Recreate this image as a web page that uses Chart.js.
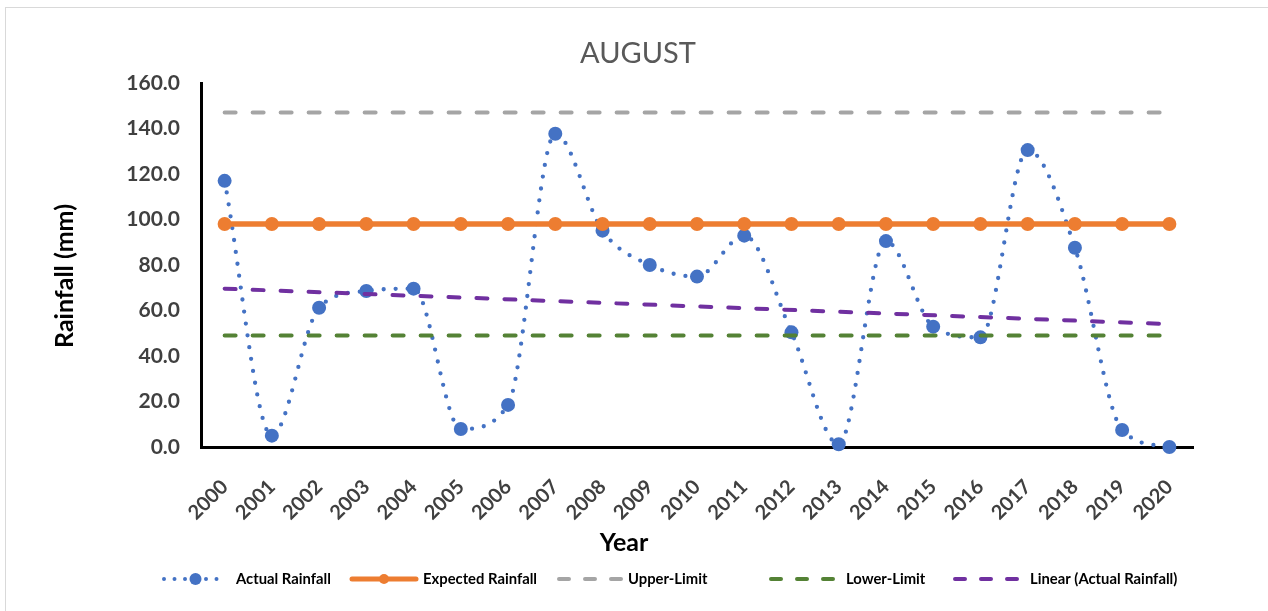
<!DOCTYPE html>
<html>
<head>
<meta charset="utf-8">
<title>AUGUST rainfall</title>
<script src="https://cdn.jsdelivr.net/npm/chart.js@4.4.1/dist/chart.umd.min.js"></script>
<style>
  html, body { margin: 0; padding: 0; background: #ffffff; }
  #wrap { position: relative; width: 1268px; height: 611px; overflow: hidden; }
  #frame { position: absolute; left: 5px; top: 7px; width: 1400px; height: 800px;
           border: 1.5px solid #d9d9d9; box-sizing: border-box; }
  #c { position: absolute; left: 0; top: 0; }
</style>
</head>
<body>
<div id="wrap">
  <div id="frame"></div>
  <canvas id="c" width="1268" height="611"></canvas>
</div>
<script>
// ---- data ----
const years = ['2000','2001','2002','2003','2004','2005','2006','2007','2008','2009','2010',
               '2011','2012','2013','2014','2015','2016','2017','2018','2019','2020'];

const actualRainfall = [117.0, 5.0, 61.2, 68.6, 69.6, 7.9, 18.5, 137.7, 95.1, 80.0, 74.9,
                        92.9, 50.4, 1.2, 90.5, 52.9, 48.2, 130.5, 87.6, 7.5, 0.0];

const expectedRainfall = [98.0, 98.0, 98.0, 98.0, 98.0, 98.0, 98.0, 98.0, 98.0, 98.0, 98.0,
                          98.0, 98.0, 98.0, 98.0, 98.0, 98.0, 98.0, 98.0, 98.0, 98.0];

const upperLimit = [147.0, 147.0, 147.0, 147.0, 147.0, 147.0, 147.0, 147.0, 147.0, 147.0, 147.0,
                    147.0, 147.0, 147.0, 147.0, 147.0, 147.0, 147.0, 147.0, 147.0, 147.0];

const lowerLimit = [49.0, 49.0, 49.0, 49.0, 49.0, 49.0, 49.0, 49.0, 49.0, 49.0, 49.0,
                    49.0, 49.0, 49.0, 49.0, 49.0, 49.0, 49.0, 49.0, 49.0, 49.0];

// linear trend of the actual series: value at first and last year
const trendYears = ['2000', '2020'];
const trendValues = [69.6, 54.0];

const yTickMin = 0, yTickMax = 160, yTickStep = 20;

// ---- styling ----
const FONT = 'Lato, "Open Sans", sans-serif';
const C_BLUE = '#4472C4', C_ORANGE = '#ED7D31', C_GRAY = '#A5A5A5',
      C_GREEN = '#548235', C_PURPLE = '#7030A0';

const legendItems = [
  { text: 'Actual Rainfall',         kind: 'dots',   color: C_BLUE,   x0: 164, x1: 227, tx: 236 },
  { text: 'Expected Rainfall',       kind: 'solid',  color: C_ORANGE, x0: 352, x1: 416, tx: 423 },
  { text: 'Upper-Limit',             kind: 'dash',   color: C_GRAY,   x0: 557, x1: 623, tx: 628 },
  { text: 'Lower-Limit',             kind: 'dash',   color: C_GREEN,  x0: 769, x1: 839, tx: 846 },
  { text: 'Linear (Actual Rainfall)',kind: 'dash',   color: C_PURPLE, x0: 953, x1: 1023, tx: 1030 }
];

// Titles and legend drawn on the canvas after the datasets
const decorations = {
  id: 'decorations',
  afterDraw(chart) {
    const ctx = chart.ctx;
    ctx.save();
    // chart title
    ctx.fillStyle = '#595959';
    ctx.font = '400 29px ' + FONT;
    ctx.textAlign = 'center';
    ctx.textBaseline = 'alphabetic';
    ctx.fillText('AUGUST', 638, 63);

    // y axis title
    ctx.save();
    ctx.translate(65, 276);
    ctx.rotate(-Math.PI / 2);
    ctx.fillStyle = '#000000';
    ctx.font = '700 25px ' + FONT;
    ctx.textAlign = 'center';
    ctx.textBaseline = 'middle';
    ctx.fillText('Rainfall (mm)', 0, 0);
    ctx.restore();

    // x axis title
    ctx.fillStyle = '#000000';
    ctx.font = '700 25px ' + FONT;
    ctx.textAlign = 'center';
    ctx.textBaseline = 'alphabetic';
    ctx.fillText('Year', 624, 551);

    // legend
    const ly = 579;
    legendItems.forEach(it => {
      ctx.save();
      ctx.strokeStyle = it.color;
      ctx.fillStyle = it.color;
      if (it.kind === 'dots') {
        ctx.lineWidth = 4;
        ctx.lineCap = 'round';
        ctx.setLineDash([0, 10.5]);
        ctx.beginPath();
        ctx.moveTo(it.x0, ly); ctx.lineTo(it.x1, ly);
        ctx.stroke();
        ctx.setLineDash([]);
        ctx.beginPath();
        ctx.arc((it.x0 + it.x1) / 2, ly, 6, 0, Math.PI * 2);
        ctx.fill();
      } else if (it.kind === 'solid') {
        ctx.lineWidth = 5;
        ctx.lineCap = 'round';
        ctx.beginPath();
        ctx.moveTo(it.x0, ly); ctx.lineTo(it.x1, ly);
        ctx.stroke();
        ctx.beginPath();
        ctx.arc((it.x0 + it.x1) / 2, ly, 5, 0, Math.PI * 2);
        ctx.fill();
      } else {
        ctx.lineWidth = 4;
        ctx.lineCap = 'round';
        ctx.setLineDash([10, 16]);
        ctx.beginPath();
        ctx.moveTo(it.x0 + 2, ly); ctx.lineTo(it.x1, ly);
        ctx.stroke();
      }
      ctx.restore();
      ctx.fillStyle = '#000000';
      ctx.font = '700 14.8px ' + FONT;
      ctx.textAlign = 'left';
      ctx.textBaseline = 'middle';
      ctx.fillText(it.text, it.tx, ly);
    });
    ctx.restore();
  }
};

const ctx = document.getElementById('c').getContext('2d');
new Chart(ctx, {
  type: 'line',
  data: {
    labels: years,
    datasets: [
      {
        label: 'Actual Rainfall',
        data: actualRainfall,
        borderColor: C_BLUE,
        backgroundColor: C_BLUE,
        borderWidth: 4.3,
        borderDash: [0, 12],
        borderCapStyle: 'round',
        pointRadius: 7,
        pointBorderWidth: 0,
        pointBackgroundColor: C_BLUE,
        tension: 0.35,
        cubicInterpolationMode: 'monotone',
        clip: false,
        order: 5
      },
      {
        label: 'Expected Rainfall',
        data: expectedRainfall,
        borderColor: C_ORANGE,
        backgroundColor: C_ORANGE,
        borderWidth: 5.5,
        pointRadius: 7,
        pointBorderWidth: 0,
        pointBackgroundColor: C_ORANGE,
        clip: false,
        order: 4
      },
      {
        label: 'Upper-Limit',
        data: upperLimit,
        borderColor: C_GRAY,
        borderWidth: 4,
        borderDash: [11, 17],
        borderCapStyle: 'round',
        pointRadius: 0,
        clip: false,
        order: 3
      },
      {
        label: 'Lower-Limit',
        data: lowerLimit,
        borderColor: C_GREEN,
        borderWidth: 4,
        borderDash: [11, 17],
        borderCapStyle: 'round',
        pointRadius: 0,
        clip: false,
        order: 2
      },
      {
        label: 'Linear (Actual Rainfall)',
        data: trendYears.map((yr, i) => ({ x: yr, y: trendValues[i] })),
        borderColor: C_PURPLE,
        borderWidth: 4,
        borderDash: [11, 17],
        borderCapStyle: 'round',
        pointRadius: 0,
        clip: false,
        order: 1
      }
    ]
  },
  options: {
    responsive: false,
    animation: false,
    devicePixelRatio: 1,
    layout: { padding: { left: 0, top: 83, right: 75, bottom: 0 } },
    plugins: {
      legend: { display: false },
      title: { display: false },
      tooltip: { enabled: false }
    },
    scales: {
      x: {
        type: 'category',
        offset: true,
        grid: { display: false, drawTicks: false },
        border: { display: true, color: '#000000', width: 3 },
        ticks: {
          minRotation: 45,
          maxRotation: 45,
          autoSkip: false,
          padding: 28,
          color: '#404040',
          font: { family: FONT, size: 20, weight: '700' }
        },
        afterFit(scale) { scale.height = 164; }
      },
      y: {
        min: yTickMin,
        max: yTickMax,
        grid: { display: false, drawTicks: false },
        border: { display: true, color: '#000000', width: 3 },
        ticks: {
          stepSize: yTickStep,
          padding: 21,
          color: '#404040',
          font: { family: FONT, size: 21, weight: '700' },
          callback: v => Number(v).toFixed(1)
        },
        afterFit(scale) { scale.width = 201; }
      }
    }
  },
  plugins: [decorations]
});
</script>
</body>
</html>
